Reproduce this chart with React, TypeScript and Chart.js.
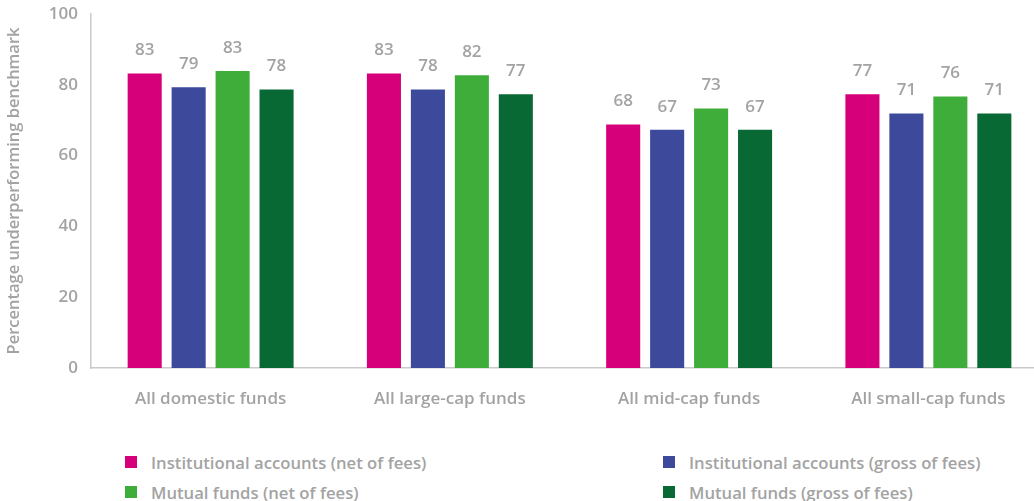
import React, { useEffect, useRef } from "react";
import { Chart, registerables } from "chart.js";

Chart.register(...registerables);

const categories = ["All domestic funds", "All large-cap funds", "All mid-cap funds", "All small-cap funds"];
const seriesNames = [
  "Institutional accounts (net of fees)",
  "Institutional accounts (gross of fees)",
  "Mutual funds (net of fees)",
  "Mutual funds (gross of fees)",
];
const seriesColors = ["#d6007b", "#3d4a9b", "#3fad3a", "#086934"];
// bar heights as drawn
const instNet = [83.2, 83.2, 68.8, 77.3];
const instGross = [79.3, 78.7, 67.3, 71.9];
const mutualNet = [83.9, 82.7, 73.3, 76.7];
const mutualGross = [78.7, 77.3, 67.3, 71.9];
// value labels as printed
const instNetLabels = ["83", "83", "68", "77"];
const instGrossLabels = ["79", "78", "67", "71"];
const mutualNetLabels = ["83", "82", "73", "76"];
const mutualGrossLabels = ["78", "77", "67", "71"];
const yTicks = [0, 20, 40, 60, 80, 100];
const yTitle = "Percentage underperforming benchmark";

const GRAY = "#a3a3a3";
const FONT = "'Open Sans', Lato, sans-serif";

const seriesValues = [instNet, instGross, mutualNet, mutualGross];
const seriesLabels = [instNetLabels, instGrossLabels, mutualNetLabels, mutualGrossLabels];

const valueLabelPlugin = {
  id: "valueLabels",
  afterDatasetsDraw(chart: any) {
    const ctx = chart.ctx;
    ctx.save();
    ctx.font = `600 17px ${FONT}`;
    ctx.fillStyle = GRAY;
    ctx.textAlign = "center";
    ctx.textBaseline = "middle";
    chart.data.datasets.forEach((ds: any, i: number) => {
      const meta = chart.getDatasetMeta(i);
      meta.data.forEach((el: any, j: number) => {
        ctx.fillText(ds.printed[j], el.x, el.y - 23);
      });
    });
    ctx.restore();
  },
};

export default function App() {
  const ref = useRef<HTMLCanvasElement | null>(null);

  useEffect(() => {
    if (!ref.current) return;
    document.body.style.overflow = "hidden";
    const chart = new Chart(ref.current, {
      type: "bar",
      data: {
        labels: categories,
        datasets: seriesNames.map((name, i) => ({
          label: name,
          data: seriesValues[i],
          printed: seriesLabels[i],
          backgroundColor: seriesColors[i],
          borderWidth: 0,
          categoryPercentage: 0.735,
          barPercentage: 0.775,
        })) as any,
      },
      options: {
        responsive: false,
        animation: false,
        layout: { padding: { top: 14, left: 0, right: 0, bottom: 0 } },
        plugins: {
          legend: { display: false },
          tooltip: { enabled: false },
        },
        scales: {
          x: {
            grid: { display: false, drawTicks: false },
            border: { display: true, color: "#c9c9c9", width: 1.5 },
            ticks: {
              color: GRAY,
              font: { family: FONT, size: 17, weight: "600" },
              padding: 21,
            },
            afterFit(scale: any) {
              scale.height = 54;
            },
          },
          y: {
            min: 0,
            max: 100,
            afterBuildTicks(scale: any) {
              scale.ticks = yTicks.map((v) => ({ value: v }));
            },
            grid: { display: false, drawTicks: false },
            border: { display: true, color: "#c9c9c9", width: 1.5 },
            ticks: {
              color: GRAY,
              font: { family: FONT, size: 17, weight: "600" },
              padding: 13,
            },
            title: {
              display: true,
              text: yTitle,
              color: GRAY,
              font: { family: FONT, size: 16.5, weight: "600" },
              padding: { top: 4, bottom: 0 },
            },
            afterFit(scale: any) {
              scale.width = 91;
              scale.paddingTop = 0;
              scale.paddingBottom = 0;
            },
          },
        },
      },
      plugins: [valueLabelPlugin],
    });
    return () => chart.destroy();
  }, []);

  const legendItem = (i: number) => (
    <div key={i} style={{ display: "flex", alignItems: "center", height: 30 }}>
      <span
        style={{
          display: "inline-block",
          width: 12,
          height: 12,
          background: seriesColors[i],
          marginRight: 14,
          flex: "none",
        }}
      />
      <span style={{ color: GRAY, font: `600 16.7px ${FONT}`, whiteSpace: "nowrap" }}>{seriesNames[i]}</span>
    </div>
  );

  return (
    <div style={{ position: "absolute", left: 0, top: 0, width: 1034, height: 501, overflow: "hidden", background: "#fff" }}>
      <canvas ref={ref} width={1048} height={422} style={{ display: "block", width: 1048, height: 422 }} />
      <div style={{ position: "absolute", left: 125, top: 447, width: 538 }}>
        {legendItem(0)}
        {legendItem(2)}
      </div>
      <div style={{ position: "absolute", left: 663, top: 447, width: 371 }}>
        {legendItem(1)}
        {legendItem(3)}
      </div>
    </div>
  );
}
